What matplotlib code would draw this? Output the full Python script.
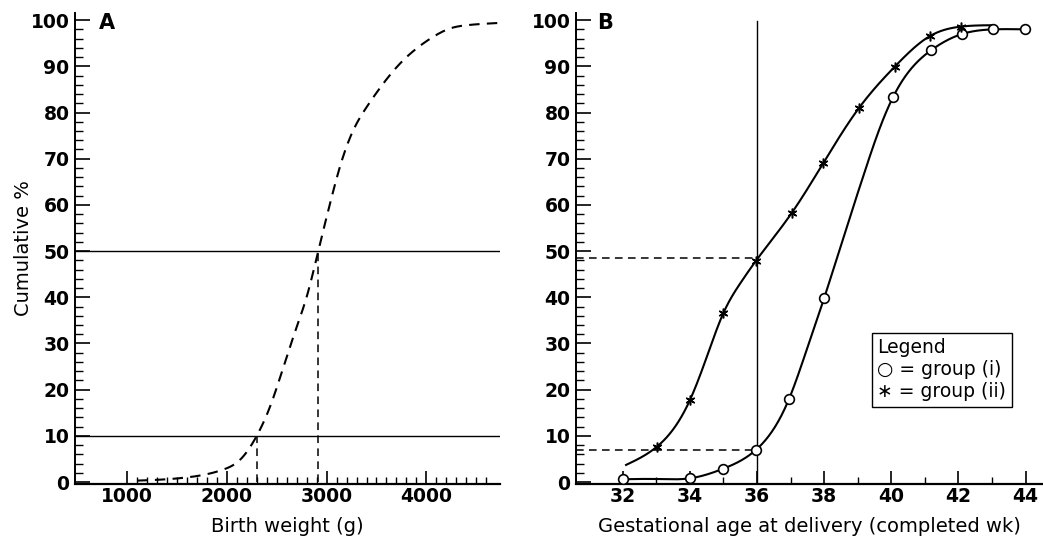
import numpy as np
import matplotlib
matplotlib.use("Agg")
from matplotlib import pyplot as plt
from matplotlib.ticker import FixedLocator

# Panel A: cumulative birth weight curve
bw_x = [1100, 1400, 1600, 1800, 1964, 2131, 2299, 2432, 2516, 2600, 2700, 2800,
        2917, 3034, 3134, 3268, 3402, 3569, 3736, 3904, 4070, 4238, 4405, 4739]
bw_y = [0.3, 0.6, 1.0, 1.7, 2.7, 4.8, 10.0, 16.3, 21.5, 27.1, 33.6, 40.1,
        50.1, 60.3, 68.3, 76.2, 81.2, 86.3, 90.6, 93.9, 96.4, 98.2, 98.9, 99.4]
bw_p10 = 2299
bw_p50 = 2917

# Panel B: gestational age, group (i) circles, group (ii) stars
g1_wk = [32, 34, 35, 35.96, 36.95, 38.0, 40.05, 41.19, 42.11, 43.03, 43.97]
g1_pct = [0.6, 0.8, 2.9, 6.9, 17.9, 39.8, 83.3, 93.5, 97.0, 98.0, 98.0]
g2_wk = [33.01, 34.0, 35.0, 35.96, 37.03, 37.97, 39.03, 40.1, 41.14, 42.08]
g2_pct = [7.6, 17.7, 36.6, 47.8, 58.2, 69.0, 80.9, 89.9, 96.5, 98.6]

# points of the drawn lines (markers plus points read between them)
g1_line_x = [32, 33, 34, 35, 35.96, 36.48, 36.95, 37.48, 38.0, 38.52, 39.16, 39.6,
             40.05, 41.19, 42.11, 43.03, 43.97]
g1_line_y = [0.6, 0.65, 0.8, 2.9, 6.9, 11.3, 17.9, 28.6, 39.8, 51.7, 66.1, 75.5,
             83.3, 93.5, 97.0, 98.0, 98.0]
g2_line_x = [32.1, 33.01, 34.0, 34.5, 35.0, 35.5, 35.96, 37.03,
             37.97, 39.03, 40.1, 41.14, 42.08, 43.03]
g2_line_y = [3.7, 7.6, 17.7, 27.0, 36.6, 43.0, 47.8, 58.2,
             69.0, 80.9, 89.9, 96.5, 98.6, 98.9]

g2_at36 = 48.6
g1_at36 = 7.0


def smooth_line(x, y, n=500):
    # natural cubic spline, only used to draw a smooth line through read points
    x = np.asarray(x, float)
    y = np.asarray(y, float)
    k = len(x)
    h = np.diff(x)
    A = np.zeros((k, k))
    r = np.zeros(k)
    A[0, 0] = 1
    A[-1, -1] = 1
    for i in range(1, k - 1):
        A[i, i - 1] = h[i - 1]
        A[i, i] = 2 * (h[i - 1] + h[i])
        A[i, i + 1] = h[i]
        r[i] = 6 * ((y[i + 1] - y[i]) / h[i] - (y[i] - y[i - 1]) / h[i - 1])
    M = np.linalg.solve(A, r)
    xs = np.linspace(x[0], x[-1], n)
    j = np.clip(np.searchsorted(x, xs) - 1, 0, k - 2)
    a = x[j + 1] - xs
    b = xs - x[j]
    hj = h[j]
    ys = (M[j] * a**3 + M[j + 1] * b**3) / (6 * hj) \
        + (y[j] / hj - M[j] * hj / 6) * a + (y[j + 1] / hj - M[j + 1] * hj / 6) * b
    return xs, ys


plt.rcParams['font.family'] = 'DejaVu Sans'
fig = plt.figure(figsize=(10.43, 5.40), dpi=100)

axA = fig.add_axes([0.0719, 0.1031, 0.4075, 0.8733])
axB = fig.add_axes([0.5523, 0.1031, 0.4477, 0.8733])

dash = (0, (5, 3.5))

for ax in (axA, axB):
    ax.spines['top'].set_visible(False)
    ax.spines['right'].set_visible(False)
    ax.spines['left'].set_linewidth(1.4)
    ax.spines['bottom'].set_linewidth(1.6)
    ax.set_ylim(-0.5, 101.6)
    ax.yaxis.set_major_locator(FixedLocator(range(0, 101, 10)))
    ax.yaxis.set_minor_locator(FixedLocator(range(0, 101, 2)))
    ax.tick_params(axis='y', which='major', direction='in', length=10.8, width=1.2,
                   labelsize=13.5, pad=4)
    ax.tick_params(axis='y', which='minor', direction='in', length=5.8, width=1.0)
    ax.tick_params(axis='x', which='major', direction='in', length=9.5, width=1.2,
                   labelsize=13.5, pad=2)
    ax.tick_params(axis='x', which='minor', direction='in', length=5, width=1.0)

# ---- Panel A ----
axA.set_xlim(476, 4739)
axA.xaxis.set_major_locator(FixedLocator([1000, 2000, 3000, 4000]))
axA.xaxis.set_minor_locator(FixedLocator(range(1100, 4700, 100)))
xs, ys = smooth_line(bw_x, bw_y)
axA.plot(xs, ys, color='black', lw=1.5, ls=dash)
axA.axhline(50, color='black', lw=1.0)
axA.axhline(10, color='black', lw=1.0)
axA.plot([bw_p10, bw_p10], [0, 10], color='black', lw=1.1, ls=dash)
axA.plot([bw_p50, bw_p50], [0, 50], color='black', lw=1.1, ls=dash)
axA.text(0.075, 0.978, 'A', transform=axA.transAxes, fontsize=15, fontweight='bold',
         va='center', ha='center')
axA.set_xlabel('Birth weight (g)', fontsize=14, labelpad=8)
axA.set_ylabel('Cumulative %', fontsize=14, labelpad=-2)

# ---- Panel B ----
axB.set_xlim(30.61, 44.52)
axB.xaxis.set_major_locator(FixedLocator(range(32, 45, 2)))
axB.xaxis.set_minor_locator(FixedLocator(range(33, 45, 2)))

xs, ys = smooth_line(g2_line_x, g2_line_y)
axB.plot(xs, ys, color='black', lw=1.5)
xs, ys = smooth_line(g1_line_x, g1_line_y)
axB.plot(xs, ys, color='black', lw=1.5)

axB.plot([36, 36], [0, 99.9], color='black', lw=1.0)
axB.plot([30.61, 36], [g2_at36, g2_at36], color='black', lw=1.1, ls=dash)
axB.plot([30.61, 36], [g1_at36, g1_at36], color='black', lw=1.1, ls=dash)

axB.plot(g1_wk, g1_pct, ls='none', marker='o', ms=7, mfc='white', mec='black',
         mew=1.2, zorder=5)
axB.plot(g2_wk, g2_pct, ls='none', marker=(6, 2, 0), ms=7, color='black',
         mew=1.1, zorder=5)

axB.text(0.062, 0.978, 'B', transform=axB.transAxes, fontsize=15, fontweight='bold',
         va='center', ha='center')
axB.set_xlabel('Gestational age at delivery (completed wk)', fontsize=14, labelpad=8)

axB.text(0.645, 0.31, 'Legend\n\u25cb = group (i)\n\u2217 = group (ii)',
         transform=axB.transAxes, fontsize=13.5, va='top', ha='left',
         linespacing=1.2,
         bbox=dict(boxstyle='square,pad=0.3', fc='white', ec='black', lw=1.0))

for ax in (axA, axB):
    for lab in ax.get_yticklabels() + ax.get_xticklabels():
        lab.set_fontweight('bold')

fig.savefig('out.png', dpi=100)
